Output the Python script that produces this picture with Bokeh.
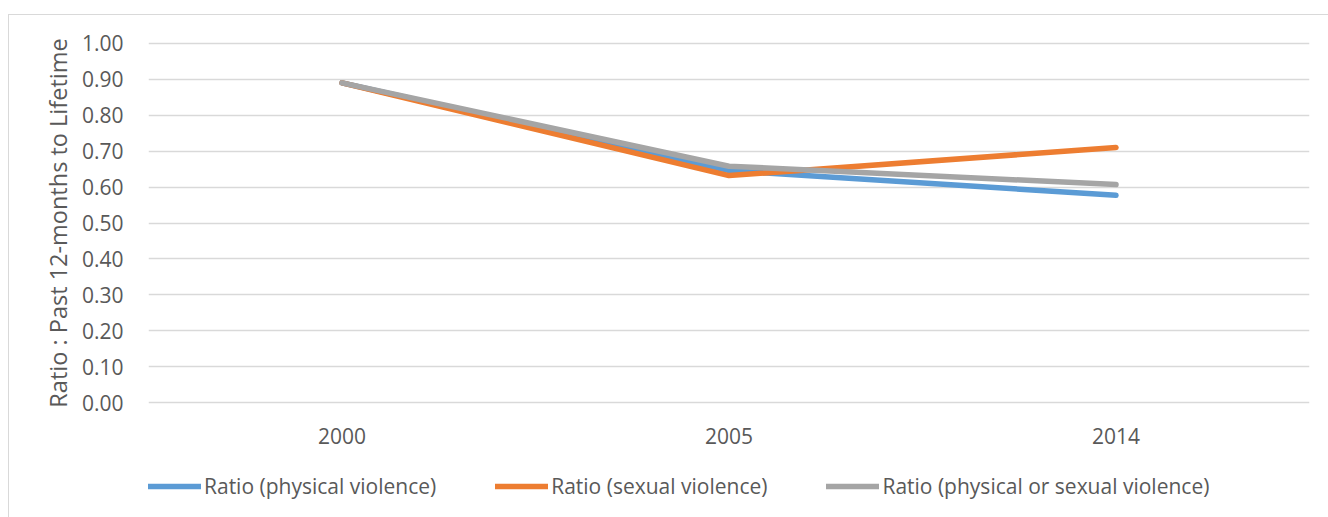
from bokeh.plotting import figure
from bokeh.layouts import column
from bokeh.models import FactorRange, Range1d, Legend, LegendItem, SingleIntervalTicker, NumeralTickFormatter
from bokeh.embed import file_html
from bokeh.resources import INLINE

years = ["2000", "2005", "2014"]
physical = [0.89, 0.646, 0.577]
sexual = [0.89, 0.632, 0.71]
either = [0.89, 0.658, 0.607]

names = ["Ratio (physical violence)", "Ratio (sexual violence)", "Ratio (physical or sexual violence)"]
colors = ["#5B9BD5", "#ED7D31", "#A5A5A5"]

FONT = "Open Sans"
TXT = "#595959"
FS = "21px"
BORDER = "1px solid #D9D9D9"

p = figure(width=1320, height=446, x_range=FactorRange(*years, range_padding=0),
           y_range=Range1d(-0.005, 1.005), output_backend="svg", toolbar_location=None,
           min_border_left=139, min_border_right=20, min_border_top=26, min_border_bottom=57)
p.margin = (14, 0, 0, 8)
p.styles = {"border-left": BORDER, "border-top": BORDER}
p.outline_line_color = None

for ys, c in zip([physical, sexual, either], colors):
    p.line(years, ys, line_color=c, line_width=5.5, line_cap="round", line_join="round")

p.yaxis.ticker = SingleIntervalTicker(interval=0.1)
p.yaxis.formatter = NumeralTickFormatter(format="0.00")
p.ygrid.grid_line_color = "#D9D9D9"
p.ygrid.grid_line_width = 1.5
p.xgrid.grid_line_color = None

for ax in [p.xaxis[0], p.yaxis[0]]:
    ax.axis_line_color = None
    ax.major_tick_line_color = None
    ax.minor_tick_line_color = None
    ax.major_label_text_font = FONT
    ax.major_label_text_font_size = FS
    ax.major_label_text_color = TXT

p.yaxis.major_label_standoff = 19
p.yaxis.axis_label = "Ratio : Past 12-months to Lifetime"
p.yaxis.axis_label_text_font = FONT
p.yaxis.axis_label_text_font_size = "23.5px"
p.yaxis.axis_label_text_font_style = "normal"
p.yaxis.axis_label_text_color = TXT
p.yaxis.axis_label_standoff = 5
p.xaxis.major_label_standoff = 17

# legend strip below the chart (legend-only renderers sit outside the visible range)
lg = figure(width=1320, height=57, x_range=Range1d(0, 1), y_range=Range1d(0, 1),
            x_axis_type=None, y_axis_type=None, output_backend="svg", toolbar_location=None,
            min_border=0)
lg.margin = (0, 0, 0, 8)
lg.styles = {"border-left": BORDER}
lg.outline_line_color = None
lg.grid.visible = False
dummies = [lg.line(x=[5, 6], y=[5, 6], line_color=c, line_width=5.5, line_cap="round") for c in colors]

legend = Legend(items=[LegendItem(label=n, renderers=[r]) for n, r in zip(names, dummies)],
                orientation="horizontal", location=(0, 17))
legend.glyph_width = 53
legend.label_standoff = 3
legend.spacing = 59
legend.label_text_font = FONT
legend.label_text_font_size = FS
legend.label_text_color = TXT
legend.border_line_color = None
legend.background_fill_alpha = 0
legend.margin = 0
legend.padding = 0
lg.add_layout(legend, "center")

layout = column(p, lg, spacing=0)
open("out.html", "w").write(file_html(layout, INLINE))
